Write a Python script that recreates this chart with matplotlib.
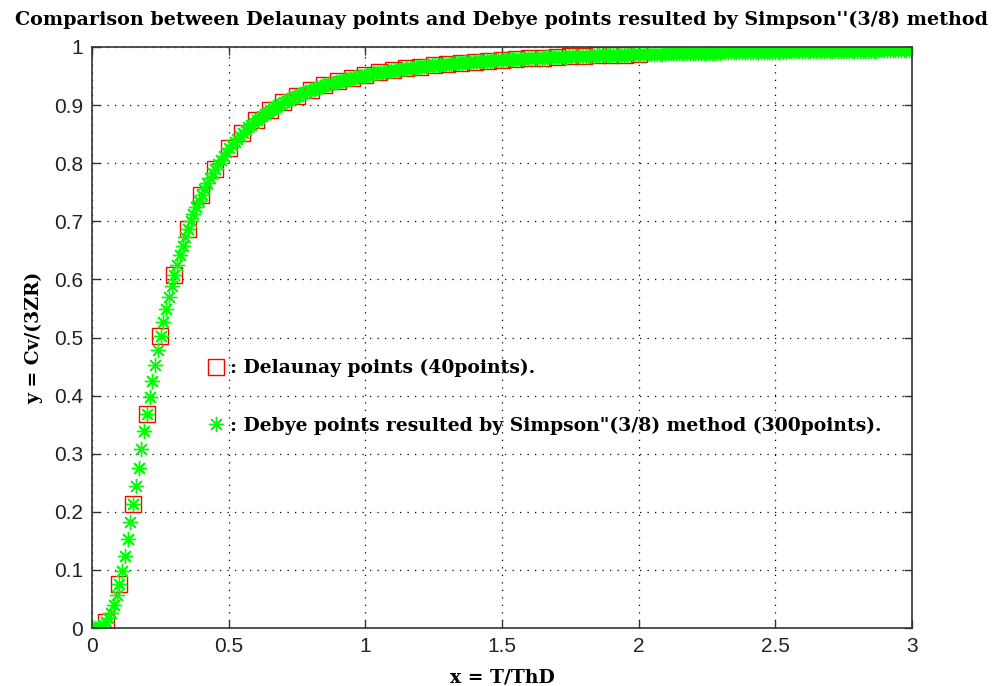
import numpy as np
import matplotlib
matplotlib.use("Agg")
import matplotlib.pyplot as plt

# Debye points (300 points, x from 0 to 3)
debye_y = [
    0.0000, 0.0001, 0.0006, 0.0021, 0.0050, 0.0097, 0.0168, 0.0267, 0.0397, 0.0561,
    0.0758, 0.0987, 0.1245, 0.1524, 0.1821, 0.2130, 0.2445, 0.2762, 0.3076, 0.3385,
    0.3686, 0.3978, 0.4259, 0.4529, 0.4785, 0.5031, 0.5263, 0.5484, 0.5693, 0.5891,
    0.6077, 0.6253, 0.6421, 0.6578, 0.6727, 0.6867, 0.6998, 0.7122, 0.7241, 0.7353,
    0.7459, 0.7559, 0.7653, 0.7743, 0.7828, 0.7908, 0.7985, 0.8057, 0.8126, 0.8192,
    0.8254, 0.8313, 0.8370, 0.8424, 0.8475, 0.8524, 0.8571, 0.8615, 0.8658, 0.8699,
    0.8738, 0.8775, 0.8811, 0.8845, 0.8878, 0.8910, 0.8940, 0.8969, 0.8997, 0.9024,
    0.9050, 0.9074, 0.9098, 0.9121, 0.9143, 0.9165, 0.9185, 0.9205, 0.9224, 0.9243,
    0.9260, 0.9278, 0.9294, 0.9310, 0.9326, 0.9341, 0.9355, 0.9369, 0.9383, 0.9396,
    0.9409, 0.9421, 0.9433, 0.9445, 0.9456, 0.9467, 0.9478, 0.9488, 0.9498, 0.9508,
    0.9517, 0.9526, 0.9535, 0.9544, 0.9553, 0.9561, 0.9569, 0.9577, 0.9584, 0.9591,
    0.9599, 0.9606, 0.9612, 0.9619, 0.9626, 0.9632, 0.9638, 0.9644, 0.9650, 0.9656,
    0.9661, 0.9667, 0.9672, 0.9677, 0.9682, 0.9687, 0.9692, 0.9697, 0.9701, 0.9706,
    0.9710, 0.9715, 0.9719, 0.9723, 0.9727, 0.9731, 0.9735, 0.9739, 0.9742, 0.9746,
    0.9749, 0.9753, 0.9756, 0.9760, 0.9763, 0.9766, 0.9769, 0.9772, 0.9775, 0.9778,
    0.9781, 0.9784, 0.9787, 0.9790, 0.9792, 0.9795, 0.9798, 0.9800, 0.9803, 0.9805,
    0.9807, 0.9810, 0.9812, 0.9814, 0.9817, 0.9819, 0.9821, 0.9823, 0.9825, 0.9827,
    0.9829, 0.9831, 0.9833, 0.9835, 0.9837, 0.9839, 0.9840, 0.9842, 0.9844, 0.9846,
    0.9847, 0.9849, 0.9851, 0.9852, 0.9854, 0.9855, 0.9857, 0.9858, 0.9860, 0.9861,
    0.9863, 0.9864, 0.9866, 0.9867, 0.9868, 0.9870, 0.9871, 0.9872, 0.9874, 0.9875,
    0.9876, 0.9877, 0.9879, 0.9880, 0.9881, 0.9882, 0.9883, 0.9884, 0.9885, 0.9886,
    0.9888, 0.9889, 0.9890, 0.9891, 0.9892, 0.9893, 0.9894, 0.9895, 0.9896, 0.9897,
    0.9897, 0.9898, 0.9899, 0.9900, 0.9901, 0.9902, 0.9903, 0.9904, 0.9904, 0.9905,
    0.9906, 0.9907, 0.9908, 0.9909, 0.9909, 0.9910, 0.9911, 0.9912, 0.9912, 0.9913,
    0.9914, 0.9914, 0.9915, 0.9916, 0.9917, 0.9917, 0.9918, 0.9919, 0.9919, 0.9920,
    0.9920, 0.9921, 0.9922, 0.9922, 0.9923, 0.9924, 0.9924, 0.9925, 0.9925, 0.9926,
    0.9926, 0.9927, 0.9928, 0.9928, 0.9929, 0.9929, 0.9930, 0.9930, 0.9931, 0.9931,
    0.9932, 0.9932, 0.9933, 0.9933, 0.9934, 0.9934, 0.9935, 0.9935, 0.9936, 0.9936,
    0.9937, 0.9937, 0.9937, 0.9938, 0.9938, 0.9939, 0.9939, 0.9940, 0.9940, 0.9940,
    0.9941, 0.9941, 0.9942, 0.9942, 0.9942, 0.9943, 0.9943, 0.9944, 0.9944, 0.9944,
]
debye_x = np.linspace(0, 3, len(debye_y))

# Delaunay points (40 points, x = 0.05 ... 2.0)
delaunay_x = [
    0.05, 0.10, 0.15, 0.20, 0.25, 0.30, 0.35, 0.40, 0.45, 0.50,
    0.55, 0.60, 0.65, 0.70, 0.75, 0.80, 0.85, 0.90, 0.95, 1.00,
    1.05, 1.10, 1.15, 1.20, 1.25, 1.30, 1.35, 1.40, 1.45, 1.50,
    1.55, 1.60, 1.65, 1.70, 1.75, 1.80, 1.85, 1.90, 1.95, 2.00,
]
delaunay_y = [
    0.0097, 0.0758, 0.2130, 0.3686, 0.5031, 0.6077, 0.6867, 0.7459, 0.7908, 0.8254,
    0.8524, 0.8738, 0.8910, 0.9050, 0.9165, 0.9260, 0.9341, 0.9409, 0.9467, 0.9517,
    0.9561, 0.9599, 0.9632, 0.9661, 0.9687, 0.9710, 0.9731, 0.9749, 0.9766, 0.9781,
    0.9795, 0.9807, 0.9819, 0.9829, 0.9839, 0.9847, 0.9855, 0.9863, 0.9870, 0.9876,
]

xticks = [0, 0.5, 1, 1.5, 2, 2.5, 3]
yticks = [0, 0.1, 0.2, 0.3, 0.4, 0.5, 0.6, 0.7, 0.8, 0.9, 1]

serif = {'family': 'DejaVu Serif', 'weight': 'bold'}

fig = plt.figure(figsize=(9.95, 6.86), dpi=100)
ax = fig.add_axes([0.0925, 0.0845, 0.824, 0.847])

ax.plot(delaunay_x, delaunay_y, 's', color='red', markerfacecolor='none',
        markersize=11, markeredgewidth=1, linestyle='none',
        label=': Delaunay points (40points).')
ax.plot(debye_x, debye_y, marker=(8, 2, 0), color='#00ff00', markersize=11,
        markeredgewidth=1.0, linestyle='none',
        label=': Debye points resulted by Simpson"(3/8) method (300points).')

ax.set_xlim(0, 3)
ax.set_ylim(0, 1)
ax.set_xticks(xticks)
ax.set_yticks(yticks)
ax.set_xticklabels([f'{v:g}' for v in xticks], family='Liberation Sans', fontsize=15)
ax.set_yticklabels([f'{v:g}' for v in yticks], family='Liberation Sans', fontsize=15)
ax.tick_params(direction='in', length=6, width=1, top=True, right=True, pad=6.5,
               colors='#333333', labelcolor='#222222')
ax.grid(True, color='black', linestyle=(0, (1, 5)), linewidth=0.9)
for s in ax.spines.values():
    s.set_linewidth(1.2)
    s.set_color('#333333')

ax.set_title("Comparison between Delaunay points and Debye points resulted by Simpson''(3/8) method",
             fontdict=dict(serif, size=13.8), pad=16)
ax.set_xlabel('x = T/ThD', fontdict=dict(serif, size=13.5), labelpad=9)
ax.set_ylabel('y = Cv/(3ZR)', fontdict=dict(serif, size=13.5), labelpad=8)

ax.legend(loc='upper left', bbox_to_anchor=(0.14, 0.463), frameon=False,
          prop=dict(serif, size=13.5), numpoints=1, handlelength=1.0,
          handletextpad=0.25, labelspacing=2.1, borderaxespad=0, borderpad=0)

fig.savefig('out.png', dpi=100)
